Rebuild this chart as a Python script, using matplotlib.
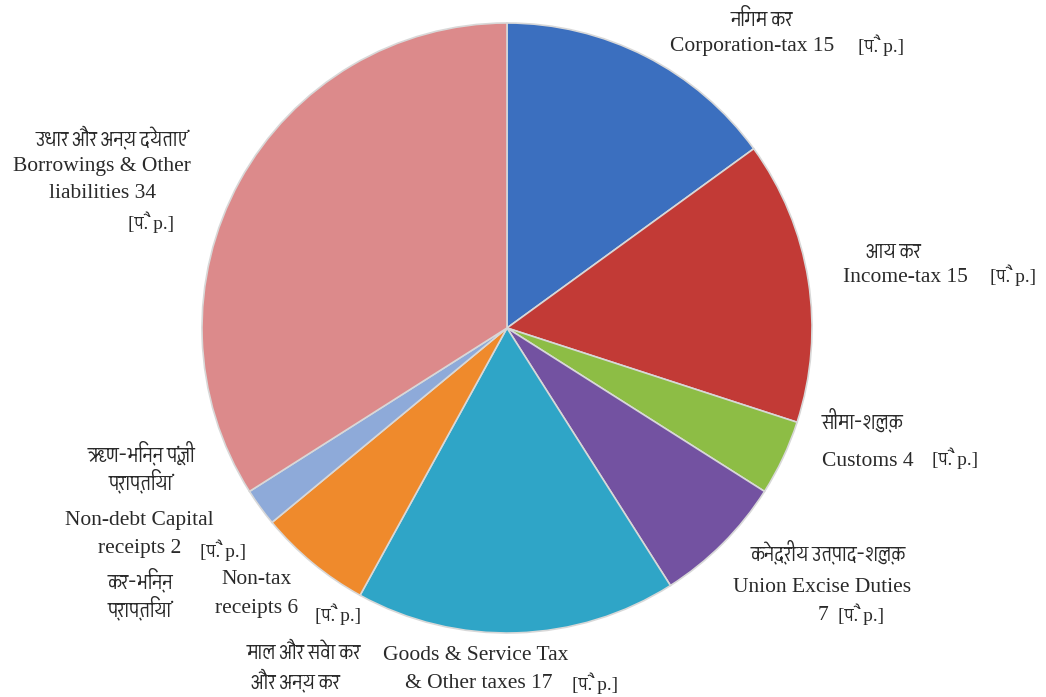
import matplotlib
matplotlib.use("Agg")
import matplotlib.pyplot as plt
from matplotlib import font_manager
from fontTools.ttLib import TTFont

# share of each rupee (paise), clockwise from the top
names = ["Corporation-tax", "Income-tax", "Customs", "Union Excise Duties",
         "Goods & Service Tax & Other taxes", "Non-tax receipts",
         "Non-debt Capital receipts", "Borrowings & Other liabilities"]
paise = [15, 15, 4, 7, 17, 6, 2, 34]
colors = ["#3b6fbf", "#c23a36", "#8dbd45", "#7352a1", "#2fa5c7",
          "#ef8a2c", "#8eaad9", "#dc8a8b"]

# find fonts that have Devanagari glyphs; prefer a proportional one
deva_fonts = []
for f in font_manager.fontManager.ttflist:
    try:
        cmap = TTFont(f.fname, fontNumber=0, lazy=True).getBestCmap()
        if 0x0915 in cmap and f.name not in deva_fonts:
            deva_fonts.append(f.name)
    except Exception:
        pass
deva_fonts.sort(key=lambda n: ("mono" in n.lower() or "code" in n.lower(),
                               "serif" in n.lower() and "sans" not in n.lower(),
                               n))
deva = deva_fonts[0] if deva_fonts else None
hi_family = [deva, "DejaVu Sans"] if deva else ["DejaVu Sans"]
en_family = ["Liberation Serif", "DejaVu Serif"]
mix_family = ["Liberation Serif"] + hi_family

fig = plt.figure(figsize=(10.46, 6.97), dpi=100)
ax = fig.add_axes([0, 0, 1, 1])

ax.pie(paise, colors=colors, startangle=90, counterclock=False,
       center=(507, 369), radius=305,
       wedgeprops=dict(edgecolor="#d8d8d8", linewidth=1.2))

# pie() resets the limits, so set the pixel frame afterwards
ax.set_xlim(0, 1046)
ax.set_ylim(0, 697)
ax.set_aspect("equal")
ax.axis("off")

def en(x, y, s, ha="left"):
    ax.text(x, 697 - y, s, family=en_family, fontsize=15.5, color="#2a2a2a",
            ha=ha, va="center")

def hi(x, y, s, ha="center"):
    ax.text(x, 697 - y, s, family=hi_family, fontsize=16, color="#2a2a2a",
            ha=ha, va="center")

def pp(x, y):
    ax.text(x, 697 - y, "[पै. p.]", family=mix_family, fontsize=14,
            color="#2a2a2a", ha="left", va="center")

# Corporation-tax
hi(762, 20, "निगम कर")
en(670, 47, "Corporation-tax 15")
pp(858, 45)

# Income-tax
hi(893, 252, "आय कर")
en(843, 278, "Income-tax 15")
pp(990, 275)

# Customs
hi(822, 420, "सीमा-शुल्क", ha="left")
en(822, 462, "Customs 4")
pp(932, 458)

# Union Excise Duties
hi(828, 552, "केन्द्रीय उत्पाद-शुल्क")
en(822, 587, "Union Excise Duties", ha="center")
en(818, 616, "7")
pp(838, 614)

# Borrowings
hi(112, 137, "उधार और अन्य देयताएं")
en(102, 167, "Borrowings & Other", ha="center")
en(103, 194, "liabilities 34", ha="center")
pp(128, 222)

# Non-debt capital receipts
hi(141, 453, "ऋण-भिन्न पूंजी")
hi(141, 481, "प्राप्तियां")
en(139, 520, "Non-debt Capital", ha="center")
en(140, 548, "receipts 2", ha="center")
pp(200, 550)

# Non-tax receipts
hi(140, 580, "कर-भिन्न")
hi(140, 608, "प्राप्तियां")
en(257, 580, "Non-tax", ha="center")
en(257, 608, "receipts 6", ha="center")
pp(315, 614)

# GST & other taxes
hi(304, 653, "माल और सेवा कर")
hi(295, 680, "और अन्य कर")
en(383, 656, "Goods & Service Tax")
en(405, 683, "& Other taxes 17")
pp(572, 683)

fig.savefig("out.png", dpi=100, facecolor="white")
